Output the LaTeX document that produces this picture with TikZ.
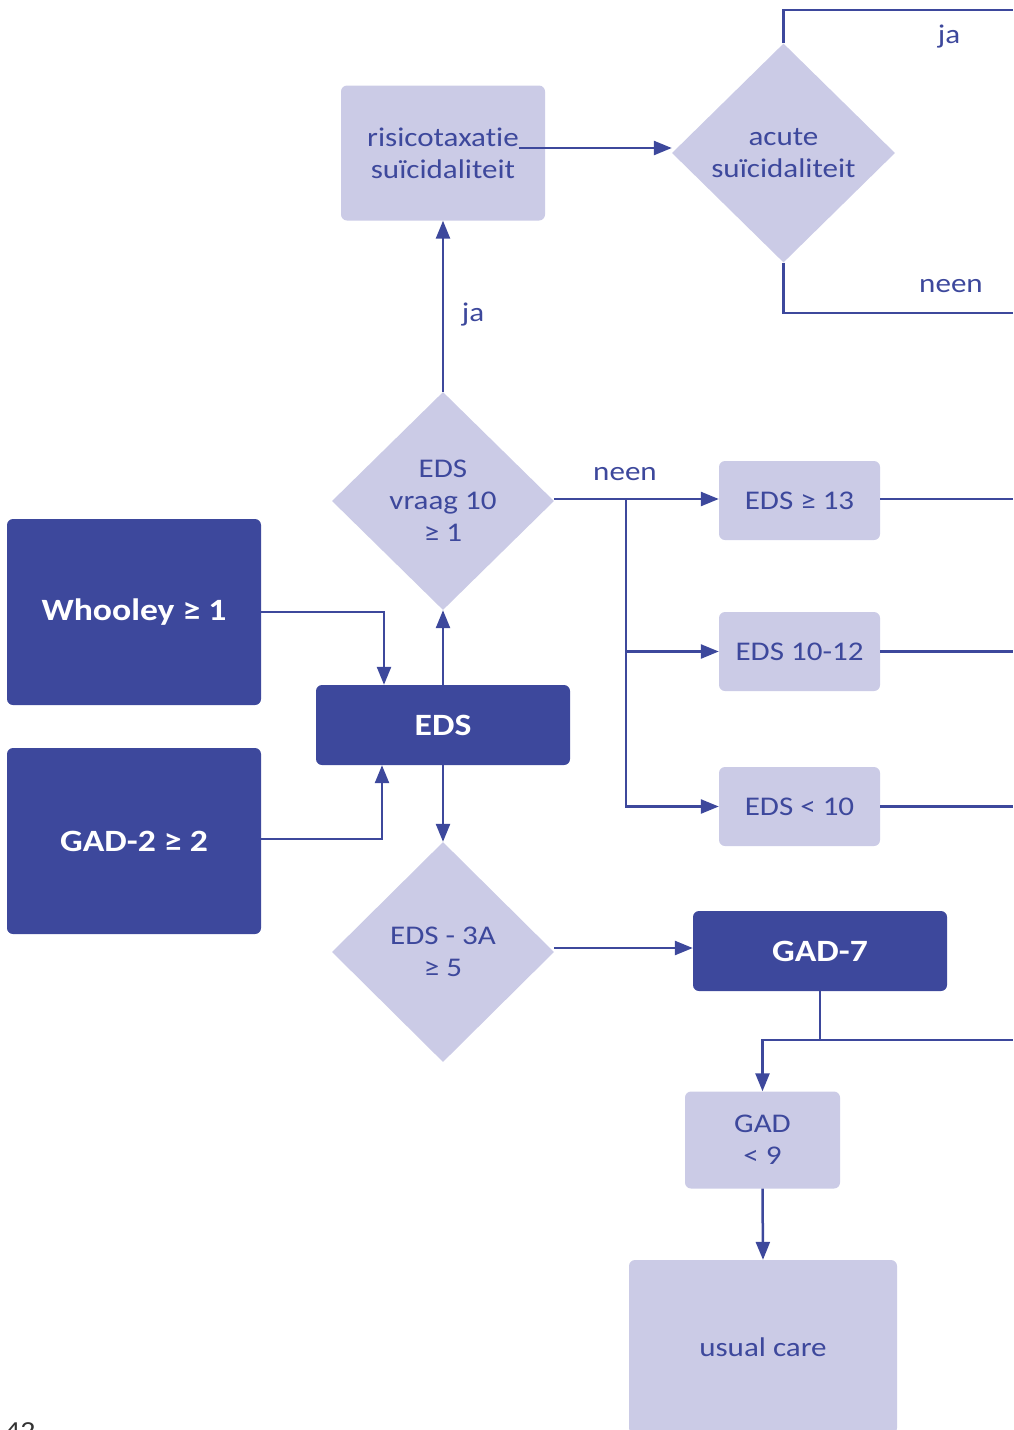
\documentclass[tikz,border=0pt]{standalone}
\usepackage{fontspec}
\setmainfont{Carlito}[FakeStretch=1.15,Ligatures=NoCommon]
\usetikzlibrary{shapes.geometric,arrows.meta,calc}
\definecolor{dblue}{HTML}{3D489C}
\definecolor{lblue}{HTML}{CBCBE6}
\tikzset{
  lightbox/.style={fill=lblue,rounded corners=6pt,inner sep=0pt,text=dblue,align=center,font=\fontsize{27}{32}\selectfont},
  darkbox/.style={fill=dblue,rounded corners=6pt,inner sep=0pt,text=white,align=center,font=\fontsize{31}{36}\selectfont\bfseries},
  decision/.style={diamond,fill=lblue,inner sep=0pt,text=dblue,align=center,font=\fontsize{27}{32}\selectfont},
  conn/.style={draw=dblue,line width=2.5pt},
  arr/.style={conn,-{Triangle[length=18pt,width=14pt]}},
  lbl/.style={text=dblue,font=\fontsize{27}{32}\selectfont,inner sep=0pt}
}
\begin{document}
\begin{tikzpicture}[x=1pt,y=-1pt]
\useasboundingbox (0,0) rectangle (1013,1430);
% nodes
\node[lightbox,minimum width=204pt,minimum height=135pt] (risk) at (443,153) {risicotaxatie\\suïcidaliteit};
\node[decision,minimum width=223pt,minimum height=219pt] (acute) at (783.5,153) {acute\\suïcidaliteit};
\node[decision,minimum width=222pt,minimum height=218pt] (vraag) at (443,501) {EDS\\vraag 10\\≥ 1};
\node[lightbox,minimum width=161pt,minimum height=79pt] (r13) at (799.5,500.5) {EDS ≥ 13};
\node[lightbox,minimum width=161pt,minimum height=79pt] (r1012) at (799.5,651.5) {EDS 10-12};
\node[lightbox,minimum width=161pt,minimum height=79pt] (r10) at (799.5,806.5) {EDS < 10};
\node[darkbox,minimum width=254pt,minimum height=186pt] (whooley) at (134,612) {Whooley ≥ 1};
\node[darkbox,minimum width=254pt,minimum height=186pt] (gad2) at (134,841) {GAD-2 ≥ 2};
\node[darkbox,minimum width=254pt,minimum height=80pt] (eds) at (443,725) {EDS};
\node[decision,minimum width=222pt,minimum height=220pt] (eds3a) at (443,952) {EDS - 3A\\≥ 5};
\node[darkbox,minimum width=254pt,minimum height=80pt] (gad7) at (820,951) {GAD-7};
\node[lightbox,minimum width=155pt,minimum height=97pt] (gad9) at (762.5,1140) {GAD\\< 9};
\node[lightbox,minimum width=268pt,minimum height=174pt] (usual) at (763,1347) {usual care};
% free ends
\coordinate (jaend) at (1013,10);
\coordinate (neenend) at (1013,313);
\coordinate (rightedge) at (1013,0);
\coordinate (egad) at (1013,1040);
\coordinate (br) at (626,499);
\coordinate (jg) at (820,1040);
% connectors
\draw[arr] ($(risk.east)+(-26,-5)$) -- ($(acute.west)+(0,-5)$);
\draw[conn] (acute.north) |- (jaend);
\draw[conn] (acute.south) |- (neenend);
\draw[arr] (vraag.north) -- (risk.south);
\draw[arr] (vraag.east |- br) -- (r13.west |- br);
\draw[arr] (br) |- (r1012.west);
\draw[arr] (br) |- (r10.west);
\draw[conn] (r13.east |- br) -- (rightedge |- br);
\draw[conn] (r1012.east) -- (rightedge |- r1012.east);
\draw[conn] (r10.east) -- (rightedge |- r10.east);
\draw[arr] (whooley.east) -| ([xshift=-59pt]eds.north);
\draw[arr] ([yshift=2pt]gad2.east) -| ([xshift=-61pt]eds.south);
\draw[arr] (eds.north) -- (vraag.south);
\draw[arr] (eds.south) -- (eds3a.north);
\draw[arr] ([yshift=4pt]eds3a.east) -- ([yshift=4pt]eds3a.east -| gad7.west);
\draw[conn] (gad7.south) -- (jg) -- (egad);
\draw[arr] (jg) -| (gad9.north);
\draw[arr] (gad9.south) -- (usual.north);
% labels
\node[lbl] (lja1) at (949,37) {ja};
\node[lbl] (lneen1) at (951,286) {neen};
\node[lbl] (lja2) at (473,315) {ja};
\node[lbl] (lneen2) at (625,474) {neen};
\node[text=black!80,font=\fontsize{26}{32}\selectfont,inner sep=0pt,anchor=base west] (page) at (5,1439) {42};
\end{tikzpicture}
\end{document}
